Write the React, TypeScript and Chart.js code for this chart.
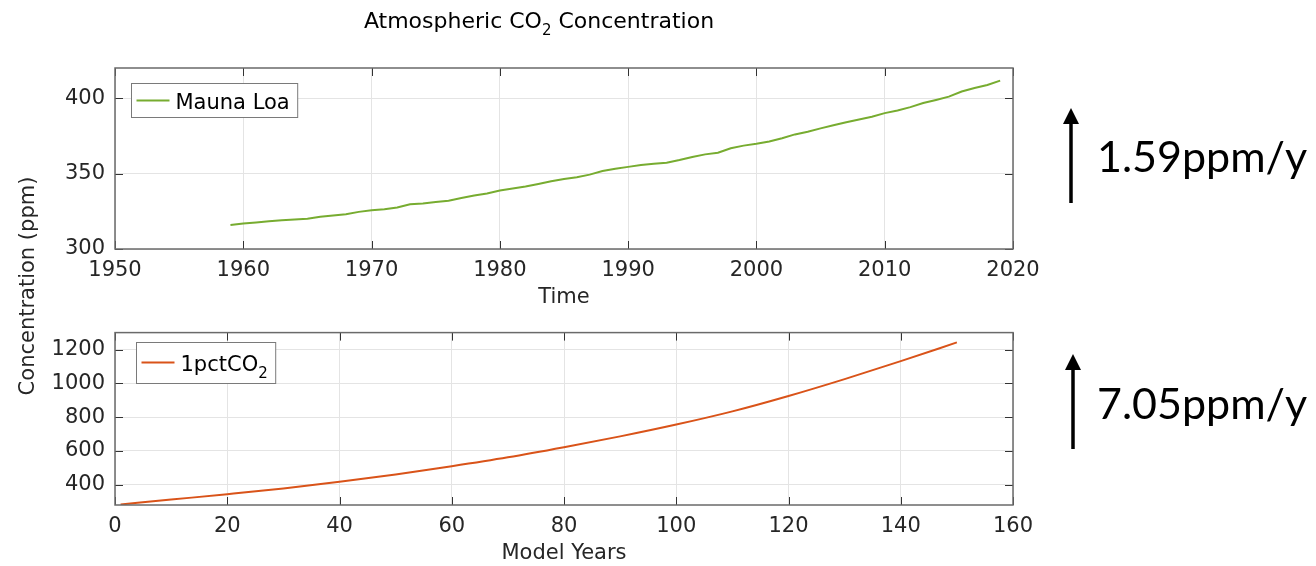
import React, { useEffect, useRef } from "react";
import { Chart, registerables } from "chart.js";

Chart.register(...registerables);

// ---------------- data ----------------
const maunaLoaYears = [
  1959, 1960, 1961, 1962, 1963, 1964, 1965, 1966, 1967, 1968, 1969, 1970, 1971, 1972, 1973, 1974,
  1975, 1976, 1977, 1978, 1979, 1980, 1981, 1982, 1983, 1984, 1985, 1986, 1987, 1988, 1989, 1990,
  1991, 1992, 1993, 1994, 1995, 1996, 1997, 1998, 1999, 2000, 2001, 2002, 2003, 2004, 2005, 2006,
  2007, 2008, 2009, 2010, 2011, 2012, 2013, 2014, 2015, 2016, 2017, 2018, 2019,
];
const maunaLoaPpm = [
  315.97, 316.91, 317.64, 318.45, 318.99, 319.62, 320.04, 321.38, 322.16, 323.04, 324.62, 325.68,
  326.32, 327.46, 329.68, 330.19, 331.12, 332.03, 333.84, 335.41, 336.84, 338.76, 340.12, 341.48,
  343.15, 344.87, 346.35, 347.61, 349.31, 351.69, 353.2, 354.45, 355.7, 356.54, 357.21, 358.96,
  360.97, 362.74, 363.88, 366.84, 368.54, 369.71, 371.32, 373.45, 375.98, 377.7, 379.98, 382.09,
  384.02, 385.83, 387.64, 390.1, 391.85, 394.06, 396.74, 398.81, 401.01, 404.41, 406.76, 408.72,
  411.66,
];

const modelYears = [1, 10, 20, 30, 40, 50, 60, 70, 80, 90, 100, 110, 120, 130, 140, 150];
const pctCO2Ppm = [283, 312, 344, 378, 417, 460, 509, 562, 622, 686, 756, 834, 925, 1025, 1131, 1242];

const topXTicks = [1950, 1960, 1970, 1980, 1990, 2000, 2010, 2020];
const topYTicks = [300, 350, 400];
const bottomXTicks = [0, 20, 40, 60, 80, 100, 120, 140, 160];
const bottomYTicks = [400, 600, 800, 1000, 1200];

const titleParts = ["Atmospheric CO", "2", " Concentration"]; // middle part is a subscript
const seriesNames = ["Mauna Loa", "1pctCO₂"];
const xAxisTitles = ["Time", "Model Years"];
const yAxisTitle = "Concentration (ppm)";
const rateLabels = ["1.59ppm/y", "7.05ppm/y"];

// ---------------- styling ----------------
const FONT = "DejaVu Sans";
const FS = 21;
const TEXT = "#262626";
const GRID = "#e4e4e4";
const FRAME = "#6a6a6a";
const GREEN = "#77AC30";
const ORANGE = "#D95319";

const framePlugin = {
  id: "matlabFrame",
  afterDatasetsDraw(chart: any, _args: any, opts: any) {
    const { ctx, chartArea } = chart;
    const { left, right, top, bottom } = chartArea;
    const xs = chart.scales.x;
    const ys = chart.scales.y;
    const tl = 8;
    ctx.save();
    ctx.strokeStyle = "#333333";
    ctx.lineWidth = 1;
    ctx.beginPath();
    xs.ticks.forEach((t: any) => {
      const px = Math.round(xs.getPixelForValue(t.value)) + 0.5;
      ctx.moveTo(px, bottom);
      ctx.lineTo(px, bottom - tl);
      ctx.moveTo(px, top);
      ctx.lineTo(px, top + tl);
    });
    ys.ticks.forEach((t: any) => {
      const py = Math.round(ys.getPixelForValue(t.value)) + 0.5;
      ctx.moveTo(left, py);
      ctx.lineTo(left + tl, py);
      ctx.moveTo(right, py);
      ctx.lineTo(right - tl, py);
    });
    ctx.stroke();
    ctx.strokeStyle = FRAME;
    ctx.lineWidth = 1.5;
    ctx.strokeRect(left, top, right - left, bottom - top);

    // legend box (MATLAB style, with a real subscript for "₂")
    if (opts && opts.legend) {
      const lg = opts.legend;
      const ds = chart.data.datasets[0];
      const label: string = ds.label;
      const subIdx = label.indexOf("₂");
      const main = subIdx >= 0 ? label.slice(0, subIdx) : label;
      const sub = subIdx >= 0 ? "2" : "";
      ctx.font = `${FS}px "${FONT}"`;
      const mw = ctx.measureText(main).width;
      ctx.font = `15px "${FONT}"`;
      const sw = sub ? ctx.measureText(sub).width : 0;
      const x0 = Math.round(left + lg.dx) + 0.5;
      const y0 = Math.round(top + lg.dy) + 0.5;
      const w = 44 + mw + sw + 8;
      const h = lg.h;
      ctx.fillStyle = "#ffffff";
      ctx.fillRect(x0, y0, w, h);
      ctx.strokeStyle = "#7a7a7a";
      ctx.lineWidth = 1;
      ctx.strokeRect(x0, y0, w, h);
      const cy = y0 + lg.lineY;
      ctx.strokeStyle = ds.borderColor;
      ctx.lineWidth = 2;
      ctx.beginPath();
      ctx.moveTo(x0 + 5, cy);
      ctx.lineTo(x0 + 38, cy);
      ctx.stroke();
      ctx.fillStyle = "#000000";
      ctx.textBaseline = "alphabetic";
      ctx.textAlign = "left";
      ctx.font = `${FS}px "${FONT}"`;
      ctx.fillText(main, x0 + 44, cy + 8);
      if (sub) {
        ctx.font = `15px "${FONT}"`;
        ctx.fillText(sub, x0 + 44 + mw, cy + 15);
      }
    }
    ctx.restore();
  },
};

function makeOptions(cfg: {
  xMin: number;
  xMax: number;
  yMin: number;
  yMax: number;
  xTicks: number[];
  yTicks: number[];
  xTitle: string;
  padTop: number;
  legend: any;
}) {
  return {
    responsive: false,
    animation: false as const,
    devicePixelRatio: 1,
    layout: { padding: { left: 0, right: 72, top: cfg.padTop, bottom: 0 } },
    plugins: {
      legend: { display: false },
      tooltip: { enabled: false },
      title: { display: false },
      matlabFrame: { legend: cfg.legend },
    },
    scales: {
      x: {
        type: "linear" as const,
        min: cfg.xMin,
        max: cfg.xMax,
        afterBuildTicks: (s: any) => {
          s.ticks = cfg.xTicks.map((v) => ({ value: v }));
        },
        afterFit: (s: any) => {
          s.height = 61;
        },
        grid: { color: GRID, drawTicks: false, lineWidth: 1 },
        border: { display: false },
        ticks: {
          color: TEXT,
          font: { family: FONT, size: FS },
          padding: 9,
          maxRotation: 0,
          autoSkip: false,
          callback: (v: any) => String(v),
        },
        title: {
          display: true,
          text: cfg.xTitle,
          color: TEXT,
          font: { family: FONT, size: FS },
          padding: { top: 0, bottom: 0 },
        },
      },
      y: {
        type: "linear" as const,
        min: cfg.yMin,
        max: cfg.yMax,
        afterBuildTicks: (s: any) => {
          s.ticks = cfg.yTicks.map((v) => ({ value: v }));
        },
        afterFit: (s: any) => {
          s.width = 115;
        },
        grid: { color: GRID, drawTicks: false, lineWidth: 1 },
        border: { display: false },
        ticks: {
          color: TEXT,
          font: { family: FONT, size: FS },
          padding: 10,
          autoSkip: false,
          callback: (v: any) => String(v),
        },
      },
    },
  };
}

function TopChart() {
  const ref = useRef<HTMLCanvasElement>(null);
  useEffect(() => {
    const chart = new Chart(ref.current as HTMLCanvasElement, {
      type: "line",
      data: {
        datasets: [
          {
            label: seriesNames[0],
            data: maunaLoaYears.map((y, i) => ({ x: y, y: maunaLoaPpm[i] })),
            borderColor: GREEN,
            borderWidth: 2,
            pointRadius: 0,
            tension: 0,
            fill: false,
          },
        ],
      },
      options: makeOptions({
        xMin: 1950,
        xMax: 2020,
        yMin: 300,
        yMax: 420,
        xTicks: topXTicks,
        yTicks: topYTicks,
        xTitle: xAxisTitles[0],
        padTop: 68,
        legend: { dx: 15.5, dy: 15, h: 34, lineY: 17 },
      }) as any,
      plugins: [framePlugin],
    });
    return () => chart.destroy();
  }, []);
  return (
    <canvas
      ref={ref}
      width={1085}
      height={310}
      style={{ position: "absolute", left: 0, top: 0, width: 1085, height: 310 }}
    />
  );
}

function BottomChart() {
  const ref = useRef<HTMLCanvasElement>(null);
  useEffect(() => {
    const chart = new Chart(ref.current as HTMLCanvasElement, {
      type: "line",
      data: {
        datasets: [
          {
            label: seriesNames[1],
            data: modelYears.map((y, i) => ({ x: y, y: pctCO2Ppm[i] })),
            borderColor: ORANGE,
            borderWidth: 2,
            pointRadius: 0,
            cubicInterpolationMode: "monotone",
            fill: false,
          },
        ],
      },
      options: makeOptions({
        xMin: 0,
        xMax: 160,
        yMin: 280,
        yMax: 1300,
        xTicks: bottomXTicks,
        yTicks: bottomYTicks,
        xTitle: xAxisTitles[1],
        padTop: 14,
        legend: { dx: 20.5, dy: 9, h: 41, lineY: 20 },
      }) as any,
      plugins: [framePlugin],
    });
    return () => chart.destroy();
  }, []);
  return (
    <canvas
      ref={ref}
      width={1085}
      height={256}
      style={{ position: "absolute", left: 0, top: 310, width: 1085, height: 256 }}
    />
  );
}

function Arrow({ x, tipY, tailY }: { x: number; tipY: number; tailY: number }) {
  return (
    <g>
      <line x1={x} y1={tailY} x2={x} y2={tipY + 14} stroke="#000" strokeWidth={3.5} />
      <polygon points={`${x},${tipY} ${x - 8},${tipY + 16} ${x + 8},${tipY + 16}`} fill="#000" />
    </g>
  );
}

export default function App() {
  return (
    <div
      style={{
        position: "absolute",
        left: 0,
        top: 0,
        width: 1316,
        height: 566,
        background: "#ffffff",
        overflow: "hidden",
      }}
    >
      <TopChart />
      <BottomChart />
      <svg
        width={1316}
        height={566}
        style={{ position: "absolute", left: 0, top: 0, pointerEvents: "none" }}
      >
        <text x={539} y={28} textAnchor="middle" fontFamily={FONT} fontSize={22} fill="#000">
          {titleParts[0]}
          <tspan fontSize={15} dy={7}>
            {titleParts[1]}
          </tspan>
          <tspan dy={-7}>{titleParts[2]}</tspan>
        </text>
        <text
          transform="translate(28,286) rotate(-90)"
          textAnchor="middle"
          dominantBaseline="middle"
          fontFamily={FONT}
          fontSize={FS}
          fill={TEXT}
        >
          {yAxisTitle}
        </text>
        <Arrow x={1071} tipY={108} tailY={203} />
        <Arrow x={1073} tipY={354} tailY={449} />
        <text x={1097} y={172} fontFamily="Lato" fontSize={43} fill="#000">
          {rateLabels[0]}
        </text>
        <text x={1097} y={419} fontFamily="Lato" fontSize={43} fill="#000">
          {rateLabels[1]}
        </text>
      </svg>
    </div>
  );
}
